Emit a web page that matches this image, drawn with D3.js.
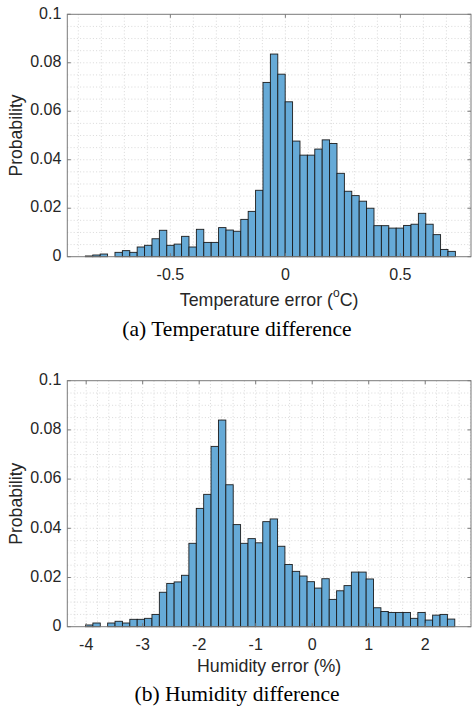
<!DOCTYPE html>
<html>
<head>
<meta charset="utf-8">
<script src="https://cdn.jsdelivr.net/npm/d3@7"></script>
<style>
  body { margin: 0; background: #fff; }
  svg { display: block; }
</style>
</head>
<body>
<svg width="472" height="706"></svg>
<script>
// histogram data (probability per bin)
var tempBinStart = -0.8694, tempBinWidth = 0.03217;
var tempProb = [0.0003, 0.0007, 0.0011, 0, 0.0018, 0.0025, 0.0018, 0.0040, 0.0047, 0.0074,
                0.0109, 0.0047, 0.0052, 0.0084, 0.0040, 0.0113, 0.0059, 0.0059, 0.0120, 0.0110,
                0.0105, 0.0154, 0.0187, 0.0274, 0.0719, 0.0836, 0.0753, 0.0639, 0.0477, 0.0419,
                0.0419, 0.0444, 0.0482, 0.0467, 0.0344, 0.0270, 0.0252, 0.0229, 0.0200, 0.0128,
                0.0128, 0.0118, 0.0118, 0.0129, 0.0134, 0.0179, 0.0134, 0.0091, 0.0030, 0.0022];
var tempTicks = [-0.5, 0, 0.5];

var humBinStart = -4.012, humBinWidth = 0.1307;
var humProb = [0.0007, 0.0015, 0, 0.0015, 0.0022, 0.0015, 0.0030, 0.0030, 0.0034, 0.0050,
               0.0140, 0.0176, 0.0182, 0.0209, 0.0339, 0.0481, 0.0538, 0.0733, 0.0840, 0.0577,
               0.0415, 0.0339, 0.0358, 0.0341, 0.0427, 0.0438, 0.0327, 0.0253, 0.0225, 0.0206,
               0.0183, 0.0157, 0.0195, 0.0111, 0.0146, 0.0167, 0.0222, 0.0222, 0.0194, 0.0077,
               0.0062, 0.0058, 0.0058, 0.0058, 0.0034, 0.0058, 0.0027, 0.0047, 0.0050, 0.0031];
var humTicks = [-4, -3, -2, -1, 0, 1, 2];

var probTicks = [0, 0.02, 0.04, 0.06, 0.08, 0.1];

var svg = d3.select('svg');
var axisColor = "#7a7a7a", textColor = "#262626";

function drawPanel(opt) {
  var left = 67.3, right = 471;
  var g = svg.append("g");

  var x = d3.scaleLinear().domain(opt.xDomain).range([left, right]);
  var y = d3.scaleLinear().domain([0, 0.1]).range([opt.bottom, opt.top]);

  // dotted grid (minor + major)
  var xGrid = d3.range(Math.ceil(opt.xDomain[0] / opt.xMinor), Math.floor(opt.xDomain[1] / opt.xMinor) + 1)
    .map(function(k) { return k * opt.xMinor; });
  var yGrid = d3.range(1, 20).map(function(k) { return k * 0.005; });

  g.selectAll(".xg").data(xGrid).enter().append("line")
    .attr("x1", function(d) { return x(d); }).attr("x2", function(d) { return x(d); })
    .attr("y1", opt.top).attr("y2", opt.bottom)
    .attr("stroke", "#cfcfcf").attr("stroke-width", 0.8)
    .attr("stroke-dasharray", "1,2.2");
  g.selectAll(".yg").data(yGrid).enter().append("line")
    .attr("x1", left).attr("x2", right)
    .attr("y1", function(d) { return y(d); }).attr("y2", function(d) { return y(d); })
    .attr("stroke", "#cfcfcf").attr("stroke-width", 0.8)
    .attr("stroke-dasharray", "1,2.2");

  // bars
  g.selectAll("rect").data(opt.values).enter().append("rect")
    .attr("x", function(d, i) { return x(opt.binStart + i * opt.binWidth); })
    .attr("width", function(d, i) {
      return x(opt.binStart + (i + 1) * opt.binWidth) - x(opt.binStart + i * opt.binWidth);
    })
    .attr("y", function(d) { return y(d); })
    .attr("height", function(d) { return y(0) - y(d); })
    .attr("fill", "#66aad7")
    .attr("stroke", function(d) { return d > 0 ? "#1c1c1c" : "none"; })
    .attr("stroke-width", 0.9);

  // box
  g.append("rect")
    .attr("x", left).attr("y", opt.top)
    .attr("width", right - left).attr("height", opt.bottom - opt.top)
    .attr("fill", "none").attr("stroke", axisColor).attr("stroke-width", 1);

  // inward ticks
  var tl = 3.5;
  opt.xTicks.forEach(function(t) {
    g.append("line").attr("x1", x(t)).attr("x2", x(t))
      .attr("y1", opt.bottom).attr("y2", opt.bottom - tl).attr("stroke", axisColor);
    g.append("line").attr("x1", x(t)).attr("x2", x(t))
      .attr("y1", opt.top).attr("y2", opt.top + tl).attr("stroke", axisColor);
  });
  probTicks.forEach(function(t) {
    g.append("line").attr("x1", left).attr("x2", left + tl)
      .attr("y1", y(t)).attr("y2", y(t)).attr("stroke", axisColor);
    g.append("line").attr("x1", right).attr("x2", right - tl)
      .attr("y1", y(t)).attr("y2", y(t)).attr("stroke", axisColor);
  });

  // tick labels
  g.selectAll(".xl").data(opt.xTicks).enter().append("text")
    .attr("x", function(d) { return x(d); })
    .attr("y", opt.bottom + 19)
    .attr("text-anchor", "middle")
    .attr("dominant-baseline", "middle")
    .attr("font-family", "Liberation Sans, Arial, sans-serif")
    .attr("font-size", 16)
    .attr("fill", textColor)
    .text(function(d) { return String(d); });
  g.selectAll(".yl").data(probTicks).enter().append("text")
    .attr("x", left - 6)
    .attr("y", function(d) { return y(d); })
    .attr("text-anchor", "end")
    .attr("dominant-baseline", "middle")
    .attr("font-family", "Liberation Sans, Arial, sans-serif")
    .attr("font-size", 16)
    .attr("fill", textColor)
    .text(function(d) { return String(d); });

  // axis labels
  var xl = g.append("text")
    .attr("x", (left + right) / 2)
    .attr("y", opt.bottom + opt.xLabelOffset)
    .attr("text-anchor", "middle")
    .attr("dominant-baseline", "middle")
    .attr("font-family", "Liberation Sans, Arial, sans-serif")
    .attr("font-size", 17.8)
    .attr("fill", textColor);
  opt.xLabel(xl);

  g.append("text")
    .attr("transform", "translate(17," + ((opt.top + opt.bottom) / 2) + ") rotate(-90)")
    .attr("text-anchor", "middle")
    .attr("dominant-baseline", "middle")
    .attr("font-family", "Liberation Sans, Arial, sans-serif")
    .attr("font-size", 17.6)
    .attr("fill", textColor)
    .text("Probability");

  // caption
  g.append("text")
    .attr("x", 237)
    .attr("y", opt.captionY)
    .attr("text-anchor", "middle")
    .attr("font-family", "Liberation Serif, Times New Roman, serif")
    .attr("font-size", 21.5)
    .attr("fill", "#000")
    .text(opt.caption);
}

drawPanel({
  top: 14.3, bottom: 256.7,
  xDomain: [-0.948, 0.807], xMinor: 0.1,
  xTicks: tempTicks,
  binStart: tempBinStart, binWidth: tempBinWidth, values: tempProb,
  xLabelOffset: 44,
  xLabel: function(t) {
    t.append("tspan").text("Temperature error (");
    t.append("tspan").attr("font-size", 12).attr("dy", -7).text("o");
    t.append("tspan").attr("dy", 7).text("C)");
  },
  caption: "(a) Temperature difference",
  captionY: 336
});

drawPanel({
  top: 380.7, bottom: 626.7,
  xDomain: [-4.334, 2.81], xMinor: 0.2,
  xTicks: humTicks,
  binStart: humBinStart, binWidth: humBinWidth, values: humProb,
  xLabelOffset: 40.5,
  xLabel: function(t) { t.text("Humidity error (%)"); },
  caption: "(b) Humidity difference",
  captionY: 700.5
});
</script>
</body>
</html>
